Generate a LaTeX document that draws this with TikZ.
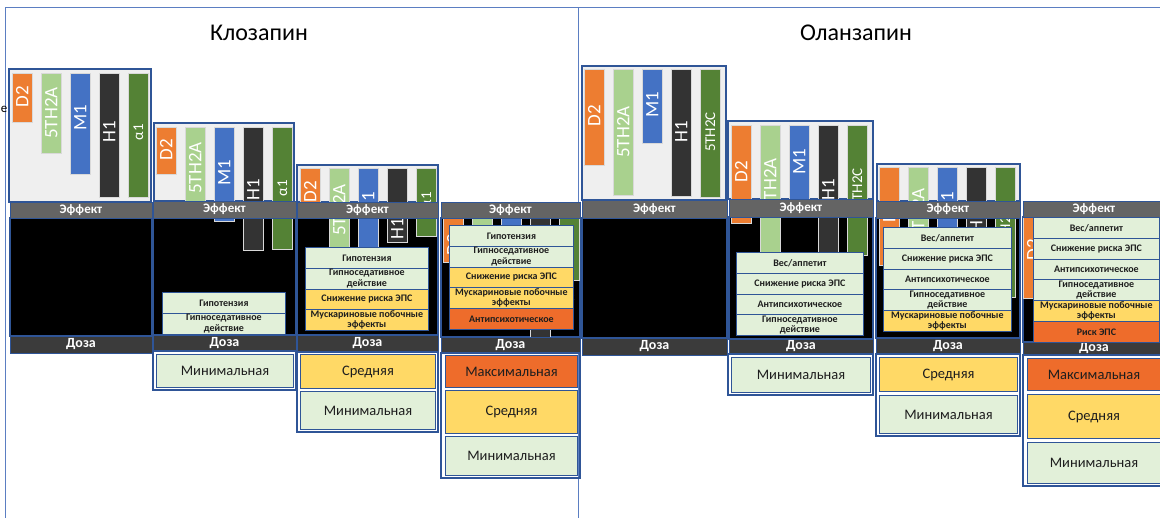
\documentclass[tikz,border=0pt]{standalone}
\usepackage{fontspec}
\setmainfont{Carlito}
\usetikzlibrary{positioning}
\definecolor{corange}{HTML}{ED7D31}
\definecolor{clgreen}{HTML}{A9D18E}
\definecolor{cblue}{HTML}{4472C4}
\definecolor{cdark}{HTML}{333333}
\definecolor{cgreen}{HTML}{548235}
\definecolor{cbox}{HTML}{EFEFEF}
\definecolor{cframe}{HTML}{2F5597}
\definecolor{cline}{HTML}{5B7EC2}
\definecolor{ceff}{HTML}{646464}
\definecolor{cdose}{HTML}{3B3B3B}
\definecolor{cpale}{HTML}{E2F0D9}
\definecolor{cyellow}{HTML}{FFD966}
\definecolor{cred}{HTML}{EE6C2B}
\definecolor{ctext}{HTML}{1E1E1E}
\tikzset{
  every picture/.style={line width=0.8pt},
  outer/.style={draw=cline, line width=1pt},
  drugtitle/.style={font=\fontsize{24}{24}\selectfont, text=black},
  darkzone/.style={fill=black, draw=cframe, line width=1.1pt},
  recbox/.style={fill=cbox, draw=cframe, line width=1.8pt},
  recbar/.style={fill=#1, draw=white!70!gray, line width=0.6pt},
  barlab/.style={text=white, rotate=90, inner sep=0pt, font=\fontsize{19}{19}\selectfont},
  effbar/.style={fill=ceff, draw=cframe, line width=0.5pt},
  dosebar/.style={fill=cdose, draw=cframe, line width=0.5pt},
  striplab/.style={text=white, inner sep=0pt, font=\bfseries\fontsize{13}{13}\selectfont},
  efx/.style={draw=cframe, fill=#1, line width=0.8pt, anchor=north west, minimum height=20.8,
    inner sep=0pt, align=center, text=ctext, font=\bfseries\fontsize{10}{10.3}\selectfont},
  doseframe/.style={draw=cframe, line width=2.4pt},
  dosebox/.style={draw=cframe, fill=#1, line width=1pt, anchor=north west, inner sep=0pt,
    text=ctext, font=\fontsize{14.5}{14.5}\selectfont},
}
\newcommand{\sm}[1]{{\fontsize{15}{15}\selectfont #1}}
% receptor bars of one step: name, left x, top, {colour/label/bottom/label y}
\newcommand{\bars}[4]{%
  \foreach \col/\lab/\yb/\ly [count=\i from 0] in {#4} {
    \draw[recbar=\col] ({#2+29*\i},#3) rectangle ({#2+29*\i+20.5},\yb);
    \node[barlab] (#1-b\i) at ({#2+29*\i+10.25},\ly) {\lab};
  }}
% the two strips: name, x1, x2, Эффект top, Эффект bottom, Доза top, Доза bottom
\newcommand{\heads}[7]{%
  \draw[effbar] (#2,#4) rectangle (#3,#5);
  \node[striplab] (#1-eff) at ({(#2+#3)/2},{(#4+#5)/2}) {Эффект};
  \draw[dosebar] (#2,#6) rectangle (#3,#7);
  \node[striplab, font=\bfseries\fontsize{14}{14}\selectfont] (#1-dose) at ({(#2+#3)/2},{(#6+#7)/2}) {Доза};}
% effect rows: name, x1, x2, top, {colour/text}
\newcommand{\effects}[5]{%
  \foreach \col/\txt [count=\i from 0] in {#5}
    \node[efx=\col, minimum width={#3-#2}] (#1-e\i) at (#2,{#4+20.8*\i}) {\txt};}

\begin{document}
\begin{tikzpicture}[x=1pt, y=-1pt]
  \useasboundingbox (0,0) rectangle (1160,518);
  \clip (0,0) rectangle (1160,518);
  \draw[outer] (5,8) rectangle (578,540);
  \draw[outer] (578,8) rectangle (1175,540);
  \node[drugtitle] (clz) at (259,33) {Клозапин};
  \node[drugtitle] (olz) at (856,33) {Оланзапин};
  \node[font=\fontsize{13}{13}\selectfont, inner sep=0pt, anchor=west] (stray) at (0.5,109) {e};
  % black fields
  \foreach \xa/\xb/\ya/\yb in {10/152/218/336, 153/296/218/335, 297/438/218/335, 441/580/218/337,
      582/727/218/338, 729/873/217/339, 876/1020/218/338, 1023/1165/217/342}
    \draw[darkzone] (\xa,\ya) rectangle (\xb,\yb);
  % receptor frames
  \foreach \xa/\xb/\ya/\yb in {9/151/69/202, 154/294/123/201, 297/438/165/202,
      582/726/66/200, 728/873/121/199, 877/1020/164/201}
    \draw[recbox] (\xa,\ya) rectangle (\xb,\yb);

  % clozapine
  \bars{c1}{12}{73}{corange/D2/122/97, clgreen/5TH2A/153/113, cblue/M1/174/118,
    cdark/H1/197/132, cgreen/\sm{α1}/197/132}
  \heads{c1}{10}{152}{202}{218}{336}{353}

  \bars{c2}{156}{127}{corange/D2/174/150, clgreen/5TH2A/205/168, cblue/M1/221/173,
    cdark/H1/250/190, cgreen/\sm{α1}/249/188}
  \heads{c2}{153}{296}{201}{218}{335}{351}
  \effects{c2}{162}{285}{292}{cpale/Гипотензия, cpale/Гипноседативное\\действие}
  \draw[doseframe] (153,351) rectangle (296,390);
  \node[dosebox=cpale, minimum width=137, minimum height=33] (c2-min) at (156,354) {Минимальная};

  \bars{c3}{300}{168}{corange/D2/210/192, clgreen/5TH2A/247/210, cblue/M1/247/205,
    cdark/H1/242/229, cgreen/\sm{α1}/236/200}
  \heads{c3}{297}{438}{202}{218}{335}{352}
  \effects{c3}{305}{428}{247}{cpale/Гипотензия, cpale/Гипноседативное\\действие,
    cyellow/Снижение риска ЭПС, cyellow/Мускариновые побочные\\эффекты}
  \draw[doseframe] (297,352) rectangle (438,432);
  \node[dosebox=cyellow, minimum width=135, minimum height=34] (c3-mid) at (300,354) {Средняя};
  \node[dosebox=cpale, minimum width=135, minimum height=38] (c3-min) at (300,391) {Минимальная};

  \bars{c4}{443}{205}{corange/D2/262/245, clgreen/5TH2A/262/290, cblue/M1/262/290,
    cdark/H1/339/290, cgreen/\sm{α1}/280/295}
  \heads{c4}{441}{580}{202}{218}{337}{353}
  \effects{c4}{449}{573}{225}{cpale/Гипотензия, cpale/Гипноседативное\\действие,
    cyellow/Снижение риска ЭПС, cyellow/Мускариновые побочные\\эффекты, cred/Антипсихотическое}
  \draw[doseframe] (441,353) rectangle (580,478);
  \node[dosebox=cred, minimum width=132, minimum height=32] (c4-max) at (445,355) {Максимальная};
  \node[dosebox=cyellow, minimum width=132, minimum height=43] (c4-mid) at (445,390) {Средняя};
  \node[dosebox=cpale, minimum width=132, minimum height=39] (c4-min) at (445,436) {Минимальная};

  % olanzapine
  \bars{o1}{584}{69}{corange/D2/165/116, clgreen/5TH2A/195/132, cblue/M1/143/105,
    cdark/H1/196/132, cgreen/\sm{5TH2C}/197/132}
  \heads{o1}{582}{727}{200}{218}{338}{355}

  \bars{o2}{731}{125}{corange/D2/223/172, clgreen/5TH2A/252/184, cblue/M1/200/162,
    cdark/H1/252/190, cgreen/\sm{5TH2C}/255/188}
  \heads{o2}{729}{873}{199}{217}{339}{354}
  \effects{o2}{736}{863}{252}{cpale/{Вес/аппетит}, cpale/Снижение риска ЭПС,
    cpale/Антипсихотическое, cpale/Гипноседативное\\действие}
  \draw[doseframe] (728,354) rectangle (873,395);
  \node[dosebox=cpale, minimum width=139, minimum height=35] (o2-min) at (731,357) {Минимальная};

  \bars{o3}{879}{167}{corange/D2/265/212, clgreen/5TH2A/240/214, cblue/M1/230/205,
    cdark/H1/230/222, cgreen/\sm{5TH2C}/297/228}
  \heads{o3}{876}{1020}{201}{218}{338}{354}
  \effects{o3}{883}{1011}{227}{cpale/{Вес/аппетит}, cpale/Снижение риска ЭПС,
    cpale/Антипсихотическое, cpale/Гипноседативное\\действие, cyellow/Мускариновые побочные\\эффекты}
  \draw[doseframe] (876,354) rectangle (1020,436);
  \node[dosebox=cyellow, minimum width=138, minimum height=34] (o3-mid) at (879,357) {Средняя};
  \node[dosebox=cpale, minimum width=138, minimum height=38] (o3-min) at (879,395) {Минимальная};

  \bars{o4}{1023}{205}{corange/D2/298/250, clgreen/5TH2A/300/250, cblue/M1/280/250,
    cdark/H1/300/250, cgreen/\sm{5TH2C}/320/250}
  \heads{o4}{1023}{1165}{201}{217}{342}{355}
  \effects{o4}{1033}{1159}{217}{cpale/{Вес/аппетит}, cpale/Снижение риска ЭПС,
    cpale/Антипсихотическое, cpale/Гипноседативное\\действие, cyellow/Мускариновые побочные\\эффекты,
    cred/Риск ЭПС}
  \draw[doseframe] (1023,355) rectangle (1170,486);
  \node[dosebox=cred, minimum width=133, minimum height=32] (o4-max) at (1027,358) {Максимальная};
  \node[dosebox=cyellow, minimum width=133, minimum height=44] (o4-mid) at (1027,394) {Средняя};
  \node[dosebox=cpale, minimum width=133, minimum height=41] (o4-min) at (1027,442) {Минимальная};
\end{tikzpicture}
\end{document}
